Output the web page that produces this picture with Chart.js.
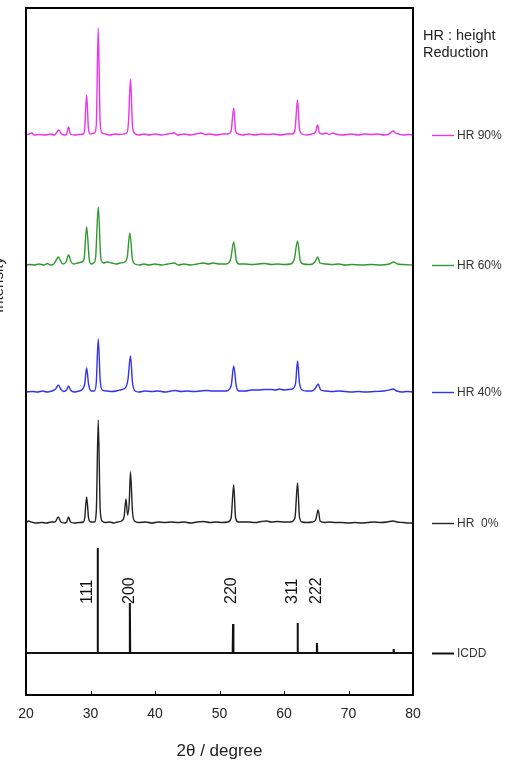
<!DOCTYPE html>
<html>
<head>
<meta charset="utf-8">
<script src="https://cdn.jsdelivr.net/npm/chart.js@4"></script>
<style>
  html, body { margin: 0; padding: 0; background: #fff; }
  #wrap { width: 506px; height: 762px; }
</style>
</head>
<body>
<div id="wrap"><canvas id="xrd" width="506" height="762"></canvas></div>
<script>
// 2theta (deg) and intensity above each trace's own baseline (arb. units)
const hr90Angle = [20, 20.5, 20.9, 21.3, 22, 23, 23.8, 24.4, 24.8, 25.1, 25.5, 26, 26.3, 26.6, 26.9, 27.5, 28.3, 28.9, 29.1, 29.4, 29.7, 30, 30.6, 30.9, 31.2, 31.5, 31.8, 32.3, 33, 33.8, 34.5, 35.2, 35.7, 35.9, 36.2, 36.5, 36.8, 37.5, 38.3, 39, 40, 41, 42, 43, 43.5, 44.5, 45.5, 46.3, 47.2, 47.8, 48.5, 49.5, 50.5, 51.3, 51.8, 52.2, 52.5, 52.9, 53.6, 54.5, 55.5, 56.5, 57.5, 58.5, 59.5, 60.5, 61.3, 61.7, 62.1, 62.4, 62.8, 63.5, 64.3, 64.9, 65.2, 65.5, 66, 66.5, 67, 67.6, 68, 69, 70.5, 71.5, 72.5, 73.5, 74.5, 75.5, 76.3, 76.9, 77.3, 77.8, 78.5, 79.3, 80];
const hr90Counts = [0, 1, 2, 0, 0.5, 0, 1, 0, 3, 5, 1, 0, 1, 8, 1, 0, 0.5, 1, 6, 40, 5, 1, 2, 10, 107, 12, 2, 1, 0, 1, 0.5, 1, 3, 14, 56, 10, 2, 0, 1, 0, 1, 0, 1, 2, 0, 1, 0, 1, 2, 0.5, 1, 0, 1, 1, 4, 27, 4, 1, 0, 1, 0, 1, 0.5, 1, 0, 1, 1, 5, 35, 6, 1, 0, 1, 3, 10, 2, 1, 2, 0.5, 2, 1, 0, 1, 0, 1, 0.5, 1, 0, 1, 4, 2, 1, 0, 0.5, 0];

const hr60Angle = [20, 20.6, 21.3, 22, 22.8, 23.3, 23.8, 24.3, 24.7, 25, 25.3, 25.7, 26.2, 26.6, 27, 27.4, 28, 28.6, 29, 29.4, 29.8, 30.1, 30.5, 30.8, 31.2, 31.6, 32, 32.6, 33.3, 34, 34.6, 35.3, 35.7, 36.1, 36.5, 36.9, 37.6, 38.3, 39, 40, 41, 42, 43, 43.6, 44.5, 45.5, 46.5, 47.5, 48.3, 49, 50, 51, 51.7, 52.2, 52.6, 53, 54, 55, 56, 57, 58, 59, 60, 61, 61.6, 62.1, 62.5, 63, 64, 64.8, 65.2, 65.6, 66.5, 67.5, 68.5, 69.5, 70.5, 72, 73.5, 75, 76.3, 77, 77.6, 78.5, 80];
const hr60Counts = [0, 0.5, 0, 1, 0, 1.5, 0, 1, 5, 8, 5, 1, 3, 10, 3, 1, 2, 3, 6, 38, 6, 1, 2, 8, 58, 7, 2, 3, 2, 1, 2, 3, 8, 32, 6, 1, 0, 1, 0, 1, 0, 1, 2, 0, 1, 0, 1, 2, 1, 2, 1, 1, 5, 23, 5, 1, 1, 0.5, 1, 1.5, 0.5, 1, 0.5, 1, 6, 24, 5, 1, 0.5, 3, 8, 2, 1, 0.5, 1, 0, 0.5, 0, 0.5, 0, 1, 3, 1, 0.5, 0];

const hr40Angle = [20, 21, 21.8, 22.5, 23.3, 24, 24.6, 25, 25.4, 25.8, 26.3, 26.6, 26.9, 27.5, 28.2, 28.8, 29.1, 29.4, 29.7, 30.1, 30.6, 30.9, 31.2, 31.5, 31.8, 32.5, 33.3, 34, 34.6, 35.1, 35.5, 35.8, 36.2, 36.5, 36.9, 37.5, 38.5, 39.5, 40.5, 41.5, 42.5, 43.2, 44, 45, 46, 47, 48, 49, 50, 51, 51.8, 52.2, 52.6, 53, 54, 55, 56, 57, 58, 58.7, 59.3, 60, 60.7, 61.3, 61.8, 62.1, 62.4, 62.8, 63.5, 64.3, 64.9, 65.3, 65.7, 66.5, 67.5, 68.5, 69.5, 70.5, 71.5, 72.5, 74, 75.5, 76.3, 76.9, 77.5, 78.3, 79, 80];
const hr40Counts = [0, 0.5, 0, 1, 0, 1, 3, 7, 3, 0.5, 2, 6, 2, 0, 1, 3, 8, 24, 8, 1, 1, 10, 53, 12, 2, 1, 0.5, 1, 2, 3, 5, 12, 36, 10, 1, 0, 1, 0.5, 1, 0, 1, 1.5, 0.5, 1, 0.5, 1, 1.5, 1, 1, 1, 6, 26, 6, 1, 1, 2, 2, 2.5, 2.5, 2, 3, 2, 2.5, 3, 9, 31, 9, 2, 1, 1, 4, 8, 2, 1, 0.5, 1, 0.5, 0, 0.5, 0, 0.5, 1, 2, 3, 1, 0, 0.5, 0];

const hr0Angle = [20, 20.4, 20.8, 21.5, 22.4, 23.2, 23.9, 24.5, 25, 25.4, 26, 26.3, 26.6, 26.9, 27.5, 28.3, 28.9, 29.1, 29.4, 29.7, 30, 30.6, 30.9, 31.2, 31.5, 31.8, 32.3, 33, 33.6, 34.2, 34.8, 35.2, 35.5, 35.75, 36, 36.2, 36.5, 36.8, 37.5, 38.5, 39.5, 40.5, 41.5, 42.5, 43.5, 44.5, 45.5, 46.5, 47.5, 48.5, 49.5, 50.5, 51.3, 51.8, 52.2, 52.5, 52.9, 53.6, 54.5, 55.5, 56.5, 57.3, 58, 59, 60, 61, 61.7, 62.1, 62.4, 62.8, 63.5, 64.4, 64.9, 65.3, 65.6, 66.3, 67, 68, 69, 70, 71, 72, 73, 74, 75, 76, 76.9, 77.5, 78.5, 79.3, 80];
const hr0Counts = [0, 2, 1, 0, 0.5, 0, 1, 1, 6, 1, 0, 1, 6, 1, 0, 0.5, 1, 5, 26, 5, 1, 1, 12, 103, 14, 2, 0.5, 1, 0, 1, 2, 6, 24, 8, 20, 51, 12, 2, 0.5, 1, 0, 1, 0.5, 1, 0.5, 1, 0, 1, 1.5, 0.5, 1, 0.5, 1, 5, 38, 5, 1, 1, 1, 0.5, 1.5, 2, 1, 1.5, 1, 1, 5, 40, 6, 1, 0.5, 1, 3, 13, 2, 0.5, 1, 0.5, 0.5, 0, 0.5, 0, 0.5, 1, 0.5, 1, 2, 1, 0.5, 0, 0];

// ICDD reference lines
const icddAngle = [31.1, 36.1, 52.1, 62.1, 65.1, 77.0];
const icddCounts = [105, 50, 29, 30, 10, 4];
const hklLabels = ['111', '200', '220', '311', '222'];
const hklLabelAngle = [29.6, 36.1, 51.9, 61.4, 65.1];

const seriesNames = ['HR 90%', 'HR 60%', 'HR 40%', 'HR  0%', 'ICDD'];
const stackOffsets = [560, 430, 303, 172, 42];
const xTicks = [20, 30, 40, 50, 60, 70, 80];

const colors = ['#ee33ee', '#2f992f', '#3333f0', '#222222', '#111111'];

function toPoints(angle, counts, offset) {
    return angle.map((a, i) => ({ x: a, y: counts[i] + offset }));
}

function sticks(angle, counts, offset) {
    const pts = [{ x: 20, y: offset }];
    angle.forEach((a, i) => {
        pts.push({ x: a - 0.06, y: offset });
        pts.push({ x: a, y: counts[i] + offset });
        pts.push({ x: a + 0.06, y: offset });
    });
    pts.push({ x: 80, y: offset });
    return pts;
}

const traces = [
    toPoints(hr90Angle, hr90Counts, stackOffsets[0]),
    toPoints(hr60Angle, hr60Counts, stackOffsets[1]),
    toPoints(hr40Angle, hr40Counts, stackOffsets[2]),
    toPoints(hr0Angle, hr0Counts, stackOffsets[3]),
    sticks(icddAngle, icddCounts, stackOffsets[4])
];

const font = '"Liberation Sans", Arial, sans-serif';

const decor = {
    id: 'decor',
    afterDatasetsDraw(chart) {
        const { ctx, chartArea: a, scales: { x, y } } = chart;
        ctx.save();

        // inward ticks on bottom
        ctx.strokeStyle = '#000';
        ctx.lineWidth = 1;
        xTicks.slice(1, -1).forEach(v => {
            const px = Math.round(x.getPixelForValue(v)) + 0.5;
            ctx.beginPath();
            ctx.moveTo(px, a.bottom);
            ctx.lineTo(px, a.bottom - 4);
            ctx.stroke();
        });

        // frame
        ctx.lineWidth = 2;
        ctx.strokeRect(a.left, a.top, a.right - a.left, a.bottom - a.top);

        // right legend, level with each trace
        ctx.font = '12px ' + font;
        ctx.textBaseline = 'middle';
        ctx.textAlign = 'left';
        seriesNames.forEach((name, i) => {
            const py = Math.round(y.getPixelForValue(stackOffsets[i])) + 0.5;
            ctx.strokeStyle = colors[i];
            ctx.lineWidth = i === 4 ? 2 : 1.4;
            ctx.beginPath();
            ctx.moveTo(a.right + 19, py);
            ctx.lineTo(a.right + 41, py);
            ctx.stroke();
            ctx.fillStyle = '#333';
            ctx.fillText(name, a.right + 44, py);
        });

        ctx.font = '14.5px ' + font;
        ctx.fillStyle = '#222';
        ctx.fillText('HR : height', a.right + 10, 36);
        ctx.fillText('Reduction', a.right + 10, 53);

        // hkl labels
        ctx.font = '16px ' + font;
        ctx.fillStyle = '#111';
        const baseY = y.getPixelForValue(stackOffsets[4] + 49);
        hklLabels.forEach((t, i) => {
            const px = x.getPixelForValue(hklLabelAngle[i]);
            ctx.save();
            ctx.translate(px, baseY);
            ctx.rotate(-Math.PI / 2);
            ctx.textAlign = 'left';
            ctx.textBaseline = 'middle';
            ctx.fillText(t, 0, 0);
            ctx.restore();
        });

        // y title, partly cut at the left edge
        ctx.font = '15px ' + font;
        ctx.fillStyle = '#222';
        ctx.translate(3, 285);
        ctx.rotate(-Math.PI / 2);
        ctx.textAlign = 'center';
        ctx.textBaseline = 'alphabetic';
        ctx.fillText('Intensity', 0, 0);

        ctx.restore();
    }
};

new Chart(document.getElementById('xrd').getContext('2d'), {
    type: 'line',
    data: {
        datasets: traces.map((pts, i) => ({
            label: seriesNames[i],
            data: pts,
            borderColor: colors[i],
            borderWidth: i === 4 ? 2 : 1.4,
            pointRadius: 0,
            fill: false,
            tension: 0,
            cubicInterpolationMode: i === 4 ? 'default' : 'monotone'
        }))
    },
    options: {
        responsive: false,
        animation: false,
        layout: { padding: { left: 26, right: 93, top: 8, bottom: 0 } },
        plugins: {
            legend: { display: false },
            tooltip: { enabled: false }
        },
        scales: {
            x: {
                type: 'linear',
                min: 20,
                max: 80,
                afterBuildTicks(scale) {
                    scale.ticks = xTicks.map(v => ({ value: v }));
                },
                afterFit(scale) {
                    scale.height = 67;
                },
                grid: { display: false, drawTicks: false },
                border: { display: false },
                ticks: {
                    padding: 11,
                    color: '#222',
                    maxRotation: 0,
                    font: { family: font, size: 14 }
                },
                title: {
                    display: true,
                    text: '2θ / degree',
                    color: '#222',
                    padding: { top: 0, bottom: 0 },
                    font: { family: font, size: 17 }
                }
            },
            y: {
                display: false,
                min: 0,
                max: 687
            }
        }
    },
    plugins: [decor]
});
</script>
</body>
</html>
